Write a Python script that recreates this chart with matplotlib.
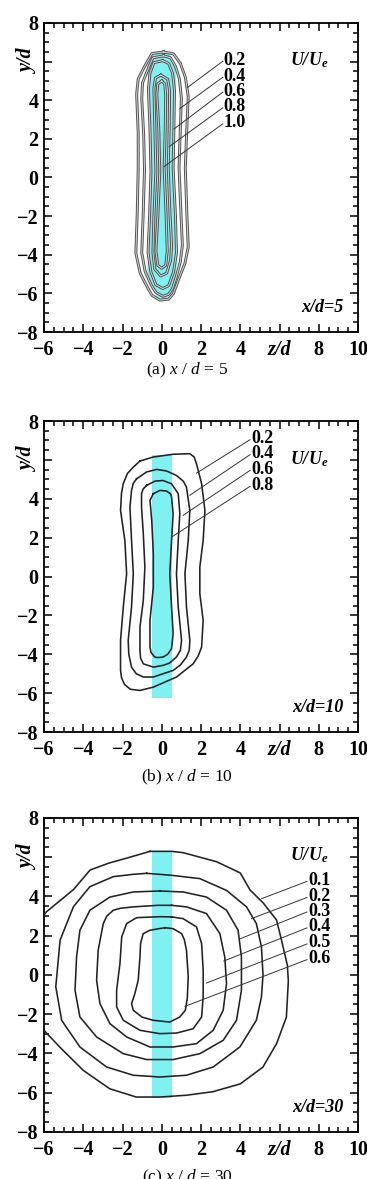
import numpy as np
import matplotlib
matplotlib.use("Agg")
import matplotlib.pyplot as plt
from matplotlib.ticker import MultipleLocator

plt.rcParams['font.family'] = ['Liberation Serif', 'DejaVu Serif']
plt.rcParams['mathtext.fontset'] = 'custom'
plt.rcParams['mathtext.rm'] = 'Liberation Serif'
plt.rcParams['mathtext.it'] = 'Liberation Serif:italic'
plt.rcParams['mathtext.bf'] = 'Liberation Serif:bold:italic'

# ---- data: contour outlines as (z/d, y/d) points ----
# (a) x/d = 5
a_levels = ['0.2', '0.4', '0.6', '0.8', '1.0']
a_u02 = [(0.1, 6.5), (-0.5, 6.42), (-0.9, 5.7), (-1.2, 5.1), (-1.28, 4.3), (-1.2, 2.3), (-1.2, 0.5),
         (-1.25, -1.9), (-1.32, -3.9), (-1.1, -4.95), (-0.75, -5.65), (-0.5, -6.1), (-0.1, -6.35),
         (0.35, -6.3), (0.6, -6.0), (0.85, -5.3), (1.18, -4.45), (1.35, -3.6), (1.28, -1.9), (1.2, 0.5),
         (1.28, 2.6), (1.35, 4.2), (1.2, 5.2), (0.95, 5.9), (0.6, 6.4)]
a_u04 = [(0.1, 6.3), (-0.45, 6.2), (-0.75, 5.5), (-0.98, 4.9), (-1.02, 4.1), (-0.92, 2.2), (-0.88, 0.4),
         (-0.95, -2.0), (-1.02, -3.9), (-0.85, -4.85), (-0.55, -5.55), (-0.3, -5.95), (0.05, -6.15),
         (0.35, -6.05), (0.55, -5.75), (0.75, -5.1), (0.95, -4.35), (1.05, -3.5), (0.98, -1.9), (0.88, 0.5),
         (0.95, 2.6), (1.0, 4.1), (0.9, 5.1), (0.7, 5.75), (0.45, 6.2)]
a_u06 = [(0.05, 6.05), (-0.4, 5.95), (-0.6, 5.4), (-0.68, 4.6), (-0.6, 2.5), (-0.55, 0.3), (-0.62, -2.0),
         (-0.7, -3.9), (-0.55, -4.9), (-0.3, -5.55), (0.05, -5.75), (0.35, -5.6), (0.6, -4.9), (0.75, -3.9),
         (0.7, -2.0), (0.58, 0.5), (0.62, 2.6), (0.65, 4.5), (0.55, 5.4), (0.35, 5.9)]
a_u08 = [(-0.05, 5.3), (-0.32, 5.15), (-0.4, 4.6), (-0.35, 2.5), (-0.3, 0.3), (-0.4, -2.0), (-0.45, -3.9),
         (-0.35, -4.75), (-0.05, -5.1), (0.25, -4.95), (0.45, -4.3), (0.5, -3.5), (0.42, -1.9), (0.33, 0.5),
         (0.38, 2.6), (0.4, 4.5), (0.3, 5.1)]
a_u10 = [(0.0, 5.0), (-0.2, 4.85), (-0.25, 4.3), (-0.15, 2.5), (-0.1, 0.3), (-0.2, -2.0), (-0.3, -3.8),
         (-0.2, -4.55), (0.0, -4.7), (0.2, -4.55), (0.28, -3.8), (0.22, -1.9), (0.12, 0.5), (0.18, 2.6),
         (0.2, 4.3), (0.15, 4.85)]
a_core = [(0.05, 6.45), (-0.45, 6.35), (-0.75, 5.8), (-0.7, 5.0), (-0.6, 4.0), (-0.55, 0.3), (-0.65, -3.5),
          (-0.75, -4.8), (-0.55, -5.7), (-0.2, -6.25), (0.2, -6.3), (0.55, -5.9), (0.7, -5.2), (0.8, -4.2),
          (0.72, -2.0), (0.6, 0.5), (0.65, 4.0), (0.75, 5.0), (0.65, 5.9), (0.4, 6.4)]
a_label_y = [6.07, 5.24, 4.47, 3.66, 2.83]
a_tips = [(1.31, 4.66), (0.92, 3.57), (0.62, 2.51), (0.38, 1.6), (0.11, 0.56)]

# (b) x/d = 10
b_levels = ['0.2', '0.4', '0.6', '0.8']
b_u02 = [(-1.11, 5.94), (-0.43, 6.15), (0.58, 6.29), (1.43, 6.32), (1.65, 6.15), (1.77, 5.8), (2.03, 4.78),
         (2.2, 3.4), (2.11, 1.86), (1.94, 0.49), (1.94, -0.88), (2.11, -2.26), (2.03, -3.63), (1.85, -4.1),
         (1.6, -4.49), (0.75, -5.17), (-0.43, -5.69), (-1.11, -5.86), (-1.6, -5.8), (-1.9, -5.55),
         (-2.05, -5.2), (-2.1, -4.83), (-2.1, -3.28), (-1.96, -1.57), (-1.79, 0.15), (-1.88, 1.86),
         (-2.1, 3.4), (-2.05, 4.3), (-1.96, 4.78), (-1.75, 5.3), (-1.45, 5.63)]
b_u04 = [(-1.28, 5.03), (-0.77, 5.38), (-0.26, 5.51), (0.24, 5.43), (0.75, 5.2), (1.1, 4.9), (1.26, 4.6),
         (1.43, 3.4), (1.35, 1.86), (1.18, 0.15), (1.26, -1.57), (1.43, -3.28), (1.4, -3.8), (1.26, -4.14),
         (0.95, -4.55), (0.58, -4.83), (-0.43, -5.17), (-0.94, -5.17), (-1.3, -5.0), (-1.54, -4.66),
         (-1.68, -4.0), (-1.71, -3.28), (-1.54, -1.57), (-1.45, 0.15), (-1.54, 1.86), (-1.62, 3.57),
         (-1.54, 4.43), (-1.45, 4.8)]
b_u06 = [(-0.77, 4.69), (-0.34, 4.91), (0.07, 4.94), (0.5, 4.77), (0.84, 4.26), (0.92, 3.23), (0.84, 1.86),
         (0.75, 0.15), (0.84, -1.57), (1.01, -3.28), (0.95, -3.8), (0.75, -4.14), (0.4, -4.45),
         (0.07, -4.57), (-0.43, -4.66), (-0.94, -4.49), (-1.08, -4.2), (-1.11, -3.8), (-1.11, -2.6),
         (-0.94, -1.23), (-0.86, 0.49), (-0.94, 2.2), (-1.03, 3.57), (-1.03, 4.26), (-0.95, 4.5)]
b_u08 = [(-0.43, 4.26), (-0.09, 4.43), (0.24, 4.4), (0.45, 4.25), (0.5, 4.09), (0.58, 3.23), (0.5, 1.86),
         (0.41, 0.15), (0.5, -1.57), (0.58, -2.94), (0.5, -3.71), (0.3, -4.0), (0.07, -4.14), (-0.2, -4.17),
         (-0.36, -4.14), (-0.55, -3.9), (-0.6, -3.63), (-0.6, -2.26), (-0.43, -0.54), (-0.43, 1.17),
         (-0.51, 2.89), (-0.6, 3.92)]
b_label_y = [7.09, 6.32, 5.51, 4.69]
b_tips = [(1.77, 5.32), (1.43, 4.18), (1.09, 3.15), (0.5, 2.03)]

# (c) x/d = 30
c_levels = ['0.1', '0.2', '0.3', '0.4', '0.5', '0.6']
c_u01 = [(-0.6, 6.3), (-1.8, 5.95), (-2.7, 5.7), (-3.65, 5.35), (-4.5, 4.35), (-5.9, 3.2), (-6.4, 2.4),
         (-6.5, 0.0), (-6.4, -2.4), (-6.0, -2.82), (-5.2, -3.67), (-4.0, -4.86), (-2.65, -5.8), (-1.3, -6.22),
         (-0.1, -6.22), (1.25, -6.13), (2.6, -5.95), (4.0, -5.55), (5.15, -4.7), (5.85, -3.5), (6.35, -2.15),
         (6.45, -0.3), (6.4, 0.5), (6.1, 1.78), (5.85, 2.8), (5.17, 3.67), (4.5, 4.33), (4.0, 5.2),
         (2.8, 5.77), (1.1, 6.23), (0.5, 6.3)]
c_u02 = [(-0.77, 5.18), (-1.45, 5.13), (-2.47, 5.01), (-3.66, 4.5), (-4.5, 3.48), (-5.18, 1.78), (-5.4, -0.6),
         (-5.1, -2.31), (-4.17, -3.67), (-2.81, -4.69), (-1.45, -5.11), (-0.1, -5.2), (1.26, -5.11),
         (2.62, -4.69), (3.98, -3.67), (4.82, -2.31), (5.08, -1.12), (5.16, 0.0), (5.08, 1.43), (4.82, 2.62),
         (4.32, 3.47), (3.3, 4.31), (1.94, 4.91), (0.5, 5.08)]
c_u03 = [(-0.1, 4.28), (-1.45, 4.23), (-2.64, 3.97), (-3.66, 3.3), (-4.17, 2.28), (-4.34, 0.92), (-4.42, -0.78),
         (-4.17, -2.14), (-3.32, -3.16), (-1.96, -4.01), (-0.77, -4.31), (0.58, -4.31), (1.94, -4.01),
         (3.13, -3.33), (3.81, -2.31), (4.06, -0.78), (4.06, 0.92), (3.89, 2.28), (3.3, 3.3), (2.28, 3.97),
         (1.09, 4.23)]
c_u04 = [(0.5, 3.55), (-0.2, 3.55), (-1.45, 3.47), (-2.1, 3.4), (-2.47, 3.3), (-2.8, 3.0), (-2.98, 2.62),
         (-3.24, 1.26), (-3.32, -0.27), (-3.15, -1.46), (-2.64, -2.48), (-1.79, -3.16), (-0.6, -3.67),
         (0.58, -3.67), (1.77, -3.5), (2.62, -2.82), (3.13, -1.8), (3.3, -0.44), (3.21, 0.92), (2.96, 2.11),
         (2.28, 3.13), (1.26, 3.47)]
c_u05 = [(0.5, 2.96), (-0.1, 2.97), (-1.28, 2.92), (-1.79, 2.62), (-2.04, 1.94), (-2.13, 0.58), (-2.3, -0.78),
         (-2.3, -1.63), (-1.96, -2.31), (-1.11, -2.82), (-0.1, -2.99), (0.75, -2.96), (1.6, -2.74),
         (2.03, -2.14), (2.11, -1.12), (2.11, 0.24), (2.03, 1.6), (1.77, 2.45), (1.09, 2.87)]
c_u06 = [(0.16, 2.41), (-0.6, 2.28), (-0.95, 2.1), (-1.08, 1.6), (-1.11, 0.92), (-1.2, -0.27), (-1.37, -0.95),
         (-1.54, -1.46), (-1.45, -1.8), (-1.0, -2.15), (-0.43, -2.31), (0.41, -2.4), (0.92, -2.14),
         (1.2, -1.8), (1.3, -1.2), (1.35, -0.1), (1.26, 1.26), (1.15, 1.8), (1.01, 2.11), (0.58, 2.36)]
c_label_y = [4.82, 4.0, 3.26, 2.45, 1.63, 0.83]
c_tips = [(5.09, 3.89), (4.57, 2.87), (4.01, 1.85), (3.16, 0.71), (2.28, -0.41), (1.18, -1.6)]

# rectangular jet outline used for (b) and (c)
jet_z = [-0.5, 0.5]
jet_y = [-6.25, 6.25]

CYAN = '#80f1f1'
TICK_FS = 14.5


def closed(pts):
    arr = np.array(pts + [pts[0]])
    return arr[:, 0], arr[:, 1]


def style_axes(ax):
    ax.set_xlim(-6, 10)
    ax.set_ylim(-8, 8)
    ax.xaxis.set_minor_locator(MultipleLocator(0.5))
    ax.yaxis.set_minor_locator(MultipleLocator(0.5))
    ax.tick_params(which='both', direction='in', top=True, right=True, width=1.1)
    ax.tick_params(which='major', length=6)
    ax.tick_params(which='minor', length=3.5)
    ax.tick_params(axis='x', pad=6)
    ax.tick_params(axis='y', pad=4)
    for sp in ax.spines.values():
        sp.set_linewidth(1.3)
    xt = list(range(-6, 11, 2))
    ax.set_xticks(xt)
    ax.set_xticklabels(['z/d' if v == 6 else f'{v}'.replace('-', '\u2212') for v in xt],
                       fontsize=TICK_FS, fontweight='bold')
    yt = list(range(-8, 9, 2))
    ax.set_yticks(yt)
    ax.set_yticklabels(['y/d' if v == 6 else f'{v}'.replace('-', '\u2212') for v in yt],
                       fontsize=TICK_FS, fontweight='bold')
    for lab in ax.get_xticklabels():
        if lab.get_text() == 'z/d':
            lab.set_fontstyle('italic')
    for lab in ax.get_yticklabels():
        if lab.get_text() == 'y/d':
            lab.set_fontstyle('italic')
            lab.set_rotation(90)
            lab.set_verticalalignment('center')


def draw_panel(ax, contours, levels, label_z, label_y, tips, tag, color, lw, ulab_y, hollow=False):
    for pts in contours:
        zz, yy = closed(pts)
        ax.plot(zz, yy, color=color, lw=lw, zorder=3, solid_joinstyle='round')
        if hollow:
            ax.plot(zz, yy, color='white', lw=lw * 0.35, alpha=0.75, zorder=3.5, solid_joinstyle='round')
    for lev, ly, (tz, ty) in zip(levels, label_y, tips):
        ax.plot([label_z - 0.05, tz], [ly - 0.05, ty], color='#333333', lw=0.7, zorder=4)
        ax.text(label_z, ly, lev, fontsize=13, fontweight='bold', ha='left', va='center', zorder=5)
    ax.text(8.5, ulab_y, r'$\mathbf{U/U_e}$', fontsize=13, ha='right', va='center')
    ax.text(9.25, -6.75, tag, fontsize=13, fontweight='bold', fontstyle='italic', ha='right', va='center')
    style_axes(ax)


fig = plt.figure(figsize=(3.67, 11.79), dpi=100)
ax_a = fig.add_axes([0.1199, 0.7184, 0.8556, 0.2621])
ax_b = fig.add_axes([0.1199, 0.3791, 0.8556, 0.2638])
ax_c = fig.add_axes([0.1199, 0.0399, 0.8556, 0.2663])

# (a)
zz, yy = closed(a_core)
ax_a.fill(zz, yy, color=CYAN, lw=0, zorder=1)
draw_panel(ax_a, [a_u02, a_u04, a_u06, a_u08, a_u10], a_levels, 3.16, a_label_y, a_tips,
           'x/d=5', '#505050', 2.1, 6.07, hollow=True)

# (b)
ax_b.fill_between(jet_z, jet_y[0], jet_y[1], color=CYAN, lw=0, zorder=1)
draw_panel(ax_b, [b_u02, b_u04, b_u06, b_u08], b_levels, 4.55, b_label_y, b_tips,
           'x/d=10', '#222222', 1.15, 6.06)

# (c)
ax_c.fill_between(jet_z, jet_y[0], jet_y[1], color=CYAN, lw=0, zorder=1)
draw_panel(ax_c, [c_u01, c_u02, c_u03, c_u04, c_u05, c_u06], c_levels, 7.45, c_label_y, c_tips,
           'x/d=30', '#222222', 1.15, 6.1)

fig.text(0.51, 0.686, r'(a) $x$ / $d$ = 5', fontsize=12.5, ha='center', va='center')
fig.text(0.51, 0.341, r'(b) $x$ / $d$ = 10', fontsize=12.5, ha='center', va='center')
fig.text(0.51, 0.0015, r'(c) $x$ / $d$ = 30', fontsize=12.5, ha='center', va='center')

fig.savefig('out.png', dpi=100)
